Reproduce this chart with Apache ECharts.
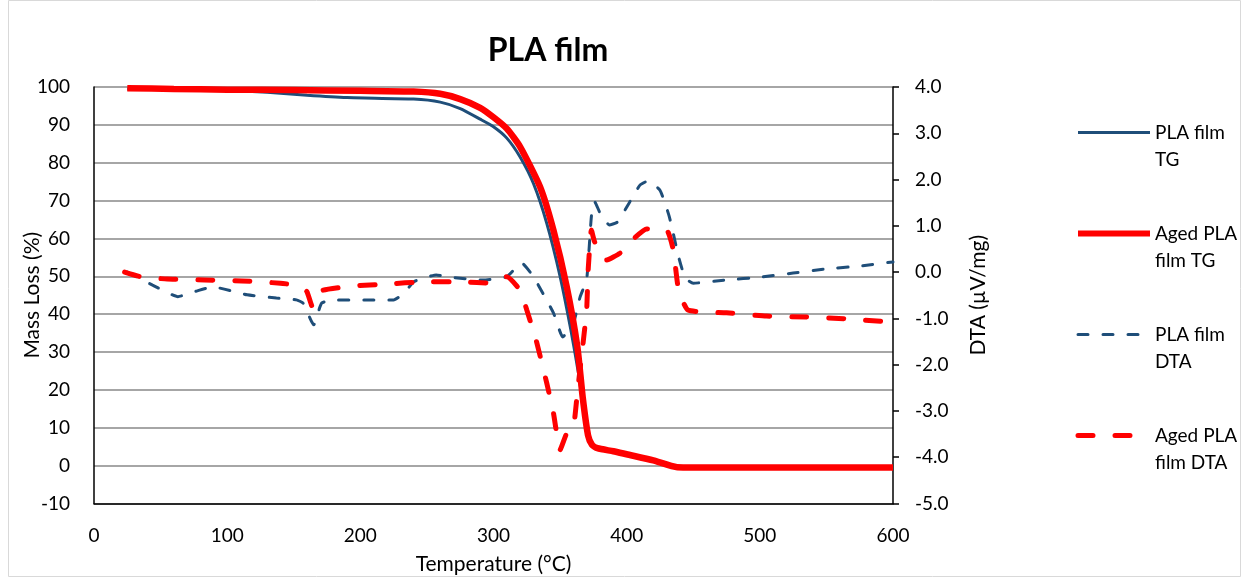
<!DOCTYPE html>
<html>
<head>
<meta charset="utf-8">
<script src="https://cdn.jsdelivr.net/npm/echarts@6/dist/echarts.min.js"></script>
<style>
  html, body { margin: 0; padding: 0; background: #fff; }
  #main { width: 1244px; height: 578px; }
</style>
</head>
<body>
<div id="main"></div>
<script>
    var myChart = echarts.init(document.getElementById('main'));

    // series names and legend labels
    var names = ['PLA film TG', 'Aged PLA film TG', 'PLA film DTA', 'Aged PLA film DTA'];
    var labels = ['PLA film\nTG', 'Aged PLA\nfilm TG', 'PLA film\nDTA', 'Aged PLA\nfilm DTA'];

    // PLA film TG (mass loss %)
    var tgT = [25, 60, 100, 130, 160, 190, 240, 260, 275, 290, 300, 310, 320, 330, 340, 350, 358, 364, 368, 372, 376, 385, 400, 420, 440, 470, 600];
    var tgV = [99.5, 99.4, 99.1, 98.6, 97.8, 97.2, 96.8, 96.0, 94.3, 91.5, 89.5, 86.5, 81.5, 74.5, 64, 50, 36, 24, 14, 6.5, 4.8, 4.0, 2.8, 1.2, -0.4, -0.5, -0.5];

    // Aged PLA film TG
    var agedTgT = [25, 60, 100, 150, 200, 240, 260, 275, 290, 300, 310, 320, 335, 345, 355, 363, 367, 371, 374, 378, 390, 400, 420, 438, 470, 600];
    var agedTgV = [99.7, 99.5, 99.3, 99.2, 99.0, 98.8, 98.2, 96.8, 94.5, 92.0, 89.0, 84.2, 73.6, 62.2, 47.2, 31.3, 18, 8, 5.5, 4.6, 3.8, 3.0, 1.4, -0.4, -0.5, -0.5];

    // PLA film DTA (uV/mg)
    var dtaT = [25, 44, 63, 77, 89, 115, 137, 152, 157, 165, 171, 182, 225, 233, 240, 247, 257, 267, 292, 310, 321, 330, 345, 352, 360, 365, 370, 373.5, 376, 380, 387, 393, 402, 410, 416, 425, 432, 439, 444, 450, 475, 500, 525, 550, 575, 600];
    var dtaV = [0.0, -0.28, -0.53, -0.41, -0.32, -0.49, -0.56, -0.6, -0.67, -1.14, -0.67, -0.6, -0.6, -0.45, -0.21, -0.13, -0.06, -0.11, -0.17, -0.1, 0.2, -0.1, -0.88, -1.4, -1.1, -0.54, -0.15, 1.2, 1.52, 1.28, 1.02, 1.08, 1.5, 1.88, 1.97, 1.77, 1.2, 0.33, -0.13, -0.24, -0.17, -0.11, -0.02, 0.07, 0.13, 0.22];

    // Aged PLA film DTA
    var agedDtaT = [23, 35, 55, 83, 111, 140, 155, 160, 164, 168, 172, 194, 220, 247, 275, 300, 310, 320, 325, 332, 340, 345, 350, 355, 360, 363, 367, 370, 371, 373.5, 376, 385, 395, 406, 415, 430, 435, 439, 446, 475, 505, 535, 565, 600];
    var agedDtaV = [0.0, -0.1, -0.15, -0.17, -0.19, -0.24, -0.3, -0.43, -0.75, -0.5, -0.39, -0.3, -0.26, -0.21, -0.21, -0.24, -0.1, -0.39, -0.82, -1.47, -2.4, -3.04, -3.84, -3.48, -3.35, -2.6, -1.6, -0.8, 0.0, 0.91, 0.65, 0.26, 0.41, 0.74, 0.93, 0.91, 0.48, -0.39, -0.82, -0.88, -0.95, -0.97, -1.01, -1.08];

    var xTicks = [0, 100, 200, 300, 400, 500, 600];

    function pairs(xs, ys) {
        return xs.map(function (x, i) { return [x, ys[i]]; });
    }

    var font = 'Lato';
    var blue = '#1f4e79';
    var red = '#ff0000';
    var legendWidths = [3, 6, 3, 5];

    myChart.setOption({
        animation: false,
        textStyle: { fontFamily: font, color: '#000' },
        graphic: [{
            type: 'rect',
            shape: { x: 8.5, y: 0.5, width: 1232, height: 576 },
            style: { fill: 'none', stroke: '#d9d9d9', lineWidth: 1 },
            silent: true
        }],
        title: {
            text: 'PLA film',
            left: 543,
            textAlign: 'center',
            top: 30,
            textStyle: { fontFamily: font, fontSize: 32, fontWeight: 'bold', color: '#000' }
        },
        legend: {
            orient: 'vertical',
            left: 1070,
            top: 87,
            itemWidth: 72,
            itemHeight: 14,
            itemGap: 20,
            data: names.map(function (n, i) {
                return { name: n, lineStyle: { width: legendWidths[i] } };
            }),
            itemStyle: { opacity: 0 },
            formatter: function (name) {
                return ' \n' + labels[names.indexOf(name)];
            },
            textStyle: { fontFamily: font, fontSize: 19, lineHeight: 27, color: '#000' }
        },
        grid: { left: 94, right: 351, top: 87, bottom: 74.5, outerBoundsMode: 'none' },
        xAxis: {
            type: 'value',
            min: 0,
            max: 600,
            interval: 100,
            name: 'Temperature (°C)',
            nameLocation: 'middle',
            nameGap: 50,
            nameTextStyle: { fontSize: 21, color: '#000' },
            axisLine: { onZero: false, lineStyle: { color: '#000', width: 1.5 } },
            axisTick: { show: false },
            axisLabel: { fontSize: 19, color: '#000', margin: 23, formatter: function (v) { return xTicks.indexOf(v) >= 0 ? String(v) : ''; } },
            splitLine: { show: false }
        },
        yAxis: [{
            type: 'value',
            min: -10,
            max: 100,
            interval: 10,
            name: 'Mass Loss (%)',
            nameLocation: 'middle',
            nameGap: 51,
            nameMoveOverlap: false,
            nameTextStyle: { fontSize: 21, color: '#000' },
            axisLine: { show: true, onZero: false, lineStyle: { color: '#000', width: 1.5 } },
            axisTick: { show: false },
            axisLabel: { fontSize: 19, color: '#000', margin: 24 },
            splitLine: { lineStyle: { color: '#a6a6a6', width: 2 } }
        }, {
            type: 'value',
            min: -5,
            max: 4,
            interval: 1,
            position: 'right',
            name: 'DTA (µV/mg)',
            nameLocation: 'middle',
            nameGap: 75,
            nameRotate: 90,
            nameMoveOverlap: false,
            nameTextStyle: { fontSize: 21, color: '#000' },
            axisLine: { show: true, onZero: false, lineStyle: { color: '#000', width: 1.5 } },
            axisTick: { show: true, length: 6, lineStyle: { color: '#000', width: 1.5 } },
            axisLabel: { fontSize: 19, color: '#000', margin: 22, formatter: function (v) { return v.toFixed(1); } },
            splitLine: { show: false }
        }],
        series: [{
            name: names[0],
            type: 'line',
            yAxisIndex: 0,
            symbol: 'none',
            smooth: 0.2,
            data: pairs(tgT, tgV),
            lineStyle: { color: blue, width: 3 },
            itemStyle: { color: blue },
            z: 3
        }, {
            name: names[1],
            type: 'line',
            yAxisIndex: 0,
            symbol: 'none',
            smooth: 0.2,
            data: pairs(agedTgT, agedTgV),
            lineStyle: { color: red, width: 6.5 },
            itemStyle: { color: red },
            z: 4
        }, {
            name: names[2],
            type: 'line',
            yAxisIndex: 1,
            symbol: 'none',
            smooth: 0.15,
            data: pairs(dtaT, dtaV),
            lineStyle: { color: blue, width: 3, type: [10, 15], cap: 'round' },
            itemStyle: { color: blue },
            z: 2
        }, {
            name: names[3],
            type: 'line',
            yAxisIndex: 1,
            symbol: 'none',
            smooth: 0.15,
            data: pairs(agedDtaT, agedDtaV),
            lineStyle: { color: red, width: 5, type: [15, 22], cap: 'round' },
            itemStyle: { color: red },
            z: 2
        }]
    });
</script>
</body>
</html>
